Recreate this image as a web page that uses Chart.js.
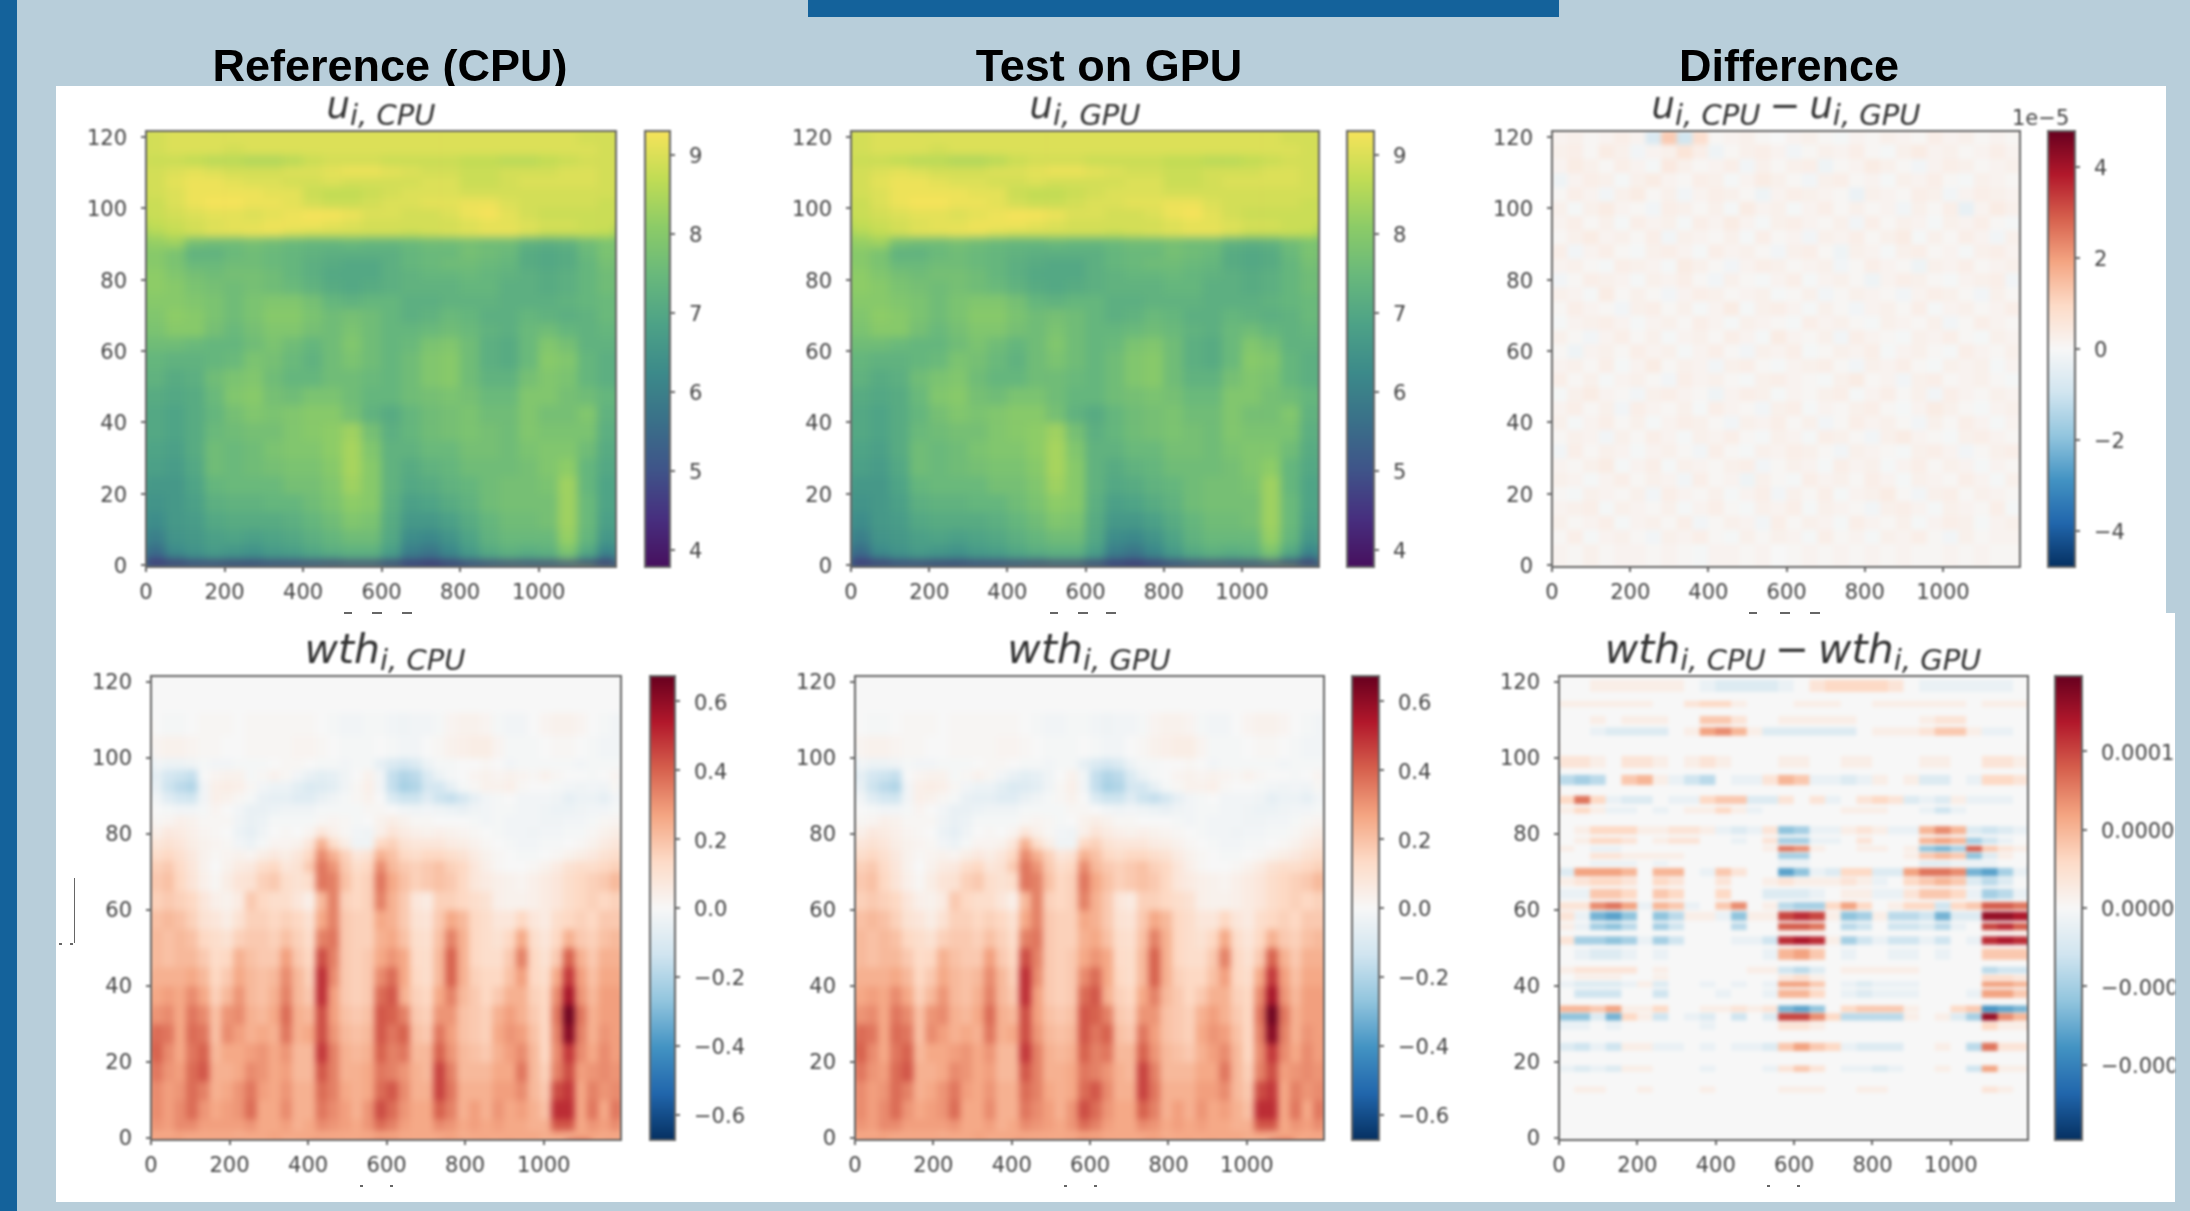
<!DOCTYPE html>
<html>
<head>
<meta charset="utf-8">
<title>CPU vs GPU</title>
<script src="https://cdn.jsdelivr.net/npm/chart.js@4"></script>
<style>
html, body { margin: 0; padding: 0; width: 2190px; height: 1211px; overflow: hidden; background: #b8ceda; }
div, span, canvas { position: absolute; }
.bar { background: #14629b; }
.panel { background: #fff; }
.head { font: bold 45px "Liberation Sans", sans-serif; color: #000; line-height: 1; white-space: nowrap; transform: translateX(-50%); filter: blur(0.5px); }
.math { font: italic 37px "DejaVu Sans", sans-serif; color: #333; line-height: 0; white-space: nowrap; transform: translateX(-50%); filter: blur(0.9px); z-index: 5; }
.math.big { font-size: 41px; }
.math span { position: static; font-size: 29px; vertical-align: -7px; }
.math b { font-weight: normal; font-style: normal; margin: 0 9px; }
.offset { font: 21px "DejaVu Sans", sans-serif; color: #444; filter: blur(0.8px); z-index: 5; }
.speck { background: #666; filter: blur(0.6px); z-index: 5; }
canvas { filter: blur(0.8px); z-index: 3; }
</style>
</head>
<body>
<div class="bar" style="left:0;top:0;width:17px;height:1211px"></div>
<div class="bar" style="left:808px;top:0;width:751px;height:17px"></div>
<div class="head" style="left:390px;top:43px">Reference (CPU)</div>
<div class="head" style="left:1109px;top:43px">Test on GPU</div>
<div class="head" style="left:1789px;top:43px">Difference</div>
<div class="panel" style="left:56px;top:86px;width:2110px;height:528px"></div>
<div class="panel" style="left:56px;top:613px;width:2119px;height:589px"></div>
<div id="stage"></div>
<script>
const xTicks = [0, 200, 400, 600, 800, 1000];
const yTicks = [0, 20, 40, 60, 80, 100, 120];

const uTicks = [4, 5, 6, 7, 8, 9];
const wthTicks = [-0.6, -0.4, -0.2, 0, 0.2, 0.4, 0.6];
const duTicks = [-4, -2, 0, 2, 4];
const dwthTicks = [-0.0001, -0.00005, 0, 0.00005, 0.0001];
const dwthTickLabels = ['\u22120.00010', '\u22120.00005', '0.00000', '0.00005', '0.00010'];

// u, tenths of a unit, top row first
const uCols = [25, 75, 125, 175, 225, 275, 325, 375, 425, 475, 525, 575, 625, 675, 725, 775, 825, 875, 925, 975, 1025, 1075, 1125, 1175];
const uBands = [[122,118],[118,115],[115,112],[112,109],[109,106],[106,103],[103,100],[100,97],[97,94],[94,92],[92,89],[89,86],[86,83],[83,80],[80,76],[76,72],[72,68],[68,64],[64,60],[60,55],[55,50],[50,45],[45,40],[40,35],[35,30],[30,25],[25,20],[20,15],[15,10],[10,6],[6,3],[3,1],[1,-0.5]];
const uRows = [
[89,90,90,90,90,90,90,90,90,90,90,90,90,90,90,90,90,90,90,90,90,90,89,89],
[89,90,90,90,89,90,90,90,90,90,90,90,90,90,90,90,90,90,90,90,90,90,90,89],
[88,88,87,86,86,85,85,86,88,89,89,89,88,88,88,88,87,87,86,86,87,88,89,89],
[89,90,91,90,89,89,89,90,90,91,92,92,91,90,89,89,88,88,89,89,89,90,90,89],
[89,91,92,92,91,90,90,89,89,90,89,89,89,89,90,90,88,88,89,90,90,90,90,89],
[89,90,92,92,92,92,91,91,88,87,87,88,89,90,90,90,89,89,89,89,89,89,89,89],
[88,90,92,93,93,92,92,91,89,88,88,89,90,90,91,91,92,92,90,89,89,89,89,88],
[88,89,90,91,91,90,91,92,93,93,92,90,90,89,89,90,92,93,91,89,88,88,88,88],
[87,88,89,90,91,91,92,92,92,91,90,89,89,89,89,89,90,91,91,90,89,89,88,88],
[85,87,89,91,91,92,92,90,89,89,89,89,89,88,89,90,91,92,92,90,88,88,88,87],
[82,83,77,76,76,77,76,75,74,74,75,74,74,75,76,76,77,76,76,73,72,73,76,78],
[80,78,73,73,75,76,75,74,73,72,72,72,72,74,75,75,77,76,75,71,70,71,75,78],
[80,78,75,75,76,76,75,74,72,71,70,70,72,74,75,76,76,75,74,71,70,71,74,77],
[81,79,77,76,77,77,76,74,72,70,70,70,72,73,74,74,75,74,73,72,71,72,74,76],
[81,80,78,77,76,77,76,75,73,71,70,71,72,73,73,73,74,74,72,72,71,72,74,76],
[80,80,79,78,76,78,79,79,77,74,73,74,74,72,72,73,73,73,72,72,72,73,74,75],
[79,81,80,78,76,78,80,80,78,76,77,76,74,72,73,75,74,72,72,74,73,72,73,75],
[78,80,80,77,75,77,79,79,77,76,78,76,74,74,75,76,75,73,72,75,76,74,73,74],
[76,76,75,74,74,76,78,76,74,76,79,76,74,75,78,79,76,72,71,75,79,77,73,73],
[74,73,73,74,75,78,77,75,73,76,78,76,74,76,79,80,76,72,71,75,80,79,74,72],
[73,71,72,76,78,79,76,74,74,76,76,75,74,76,79,80,76,73,73,77,79,78,74,72],
[71,70,71,75,79,80,77,76,78,78,76,74,74,76,77,78,77,75,75,79,79,77,76,74],
[70,69,71,74,77,79,78,79,80,80,77,73,71,74,76,77,78,76,76,79,77,77,79,73],
[70,69,71,75,76,77,77,79,80,81,83,77,72,74,76,77,78,77,76,79,78,78,78,72],
[69,68,71,76,75,76,78,79,79,81,84,79,73,73,75,75,77,77,76,78,79,79,76,71],
[68,67,70,76,75,76,77,78,78,80,84,80,73,71,73,74,76,76,76,77,79,81,74,70],
[66,66,69,74,75,75,75,77,77,79,83,80,73,70,71,73,74,76,77,77,78,83,74,69],
[65,66,68,72,73,73,74,74,76,78,81,80,72,68,69,71,73,76,77,77,77,83,75,69],
[63,66,67,70,71,71,71,72,74,76,79,78,71,66,66,68,71,74,76,76,77,83,75,68],
[60,65,66,68,69,68,69,70,72,74,76,76,70,63,62,65,69,73,75,75,75,82,74,66],
[56,63,65,67,66,65,67,68,70,72,73,73,68,60,58,62,67,71,73,72,73,79,71,62],
[52,58,62,64,63,62,64,65,67,68,70,70,65,57,55,59,64,68,70,69,70,75,66,57],
[40,40,41,41,40,40,41,41,41,40,41,41,40,40,39,40,41,41,41,41,41,42,40,39]
];

// wth, hundredths of a unit, top row first
const wthCols = [15, 45, 75, 105, 135, 165, 195, 225, 255, 285, 315, 345, 375, 405, 435, 465, 495, 525, 555, 585, 615, 645, 675, 705, 735, 765, 795, 825, 855, 885, 915, 945, 975, 1005, 1035, 1065, 1095, 1125, 1155, 1185];
const wthBands = [[122,112],[112,106],[106,100],[100,97],[97,94],[94,91],[91,88],[88,85],[85,82],[82,79],[79,76],[76,73],[73,70],[70,65],[65,60],[60,55],[55,50],[50,45],[45,40],[40,35],[35,30],[30,25],[25,20],[20,15],[15,10],[10,5],[5,2],[2,-0.5]];
const wthRows = [
[0,0,0,0,0,0,0,0,0,0,0,0,0,0,0,0,0,0,0,0,0,0,0,0,0,0,0,0,0,0,0,0,0,0,0,0,0,0,0,0],
[0,-1,-1,0,1,1,1,0,1,1,1,1,1,1,0,-1,-2,-2,-1,-1,-2,-3,-2,-2,-1,2,3,3,2,-1,-2,-2,0,2,3,3,2,0,-1,-2],
[2,3,3,2,1,1,0,0,1,1,1,1,2,2,1,0,-1,-1,-1,0,-1,-2,-2,0,1,3,4,5,5,2,-1,-1,-1,0,1,1,0,-1,-2,-2],
[-2,-4,-4,-3,-1,-2,-2,-1,-1,-1,0,1,1,0,-1,-1,-2,-1,-1,-6,-10,-12,-10,-4,-1,-1,0,0,1,0,-2,-1,-1,-1,-1,-1,-2,-1,-1,-1],
[-6,-12,-14,-16,0,2,3,3,-1,1,3,1,-2,-5,-7,-6,-3,0,3,-2,-16,-20,-18,-10,-4,-1,0,2,3,2,3,2,1,3,1,0,0,-1,0,2],
[-5,-14,-18,-20,-2,4,5,4,1,-2,-4,-4,-7,-10,-9,-7,-3,1,4,-2,-16,-22,-20,-12,-12,-6,-1,1,3,3,4,1,0,0,-1,-2,-3,-2,-3,1],
[-2,-8,-12,-13,-2,4,3,1,-1,-5,-6,-6,-8,-8,-5,-3,-1,1,3,0,-10,-14,-14,-8,-14,-16,-12,-6,-2,-1,0,-2,-2,-2,-3,-6,-4,-4,-6,-2],
[0,-1,-2,-2,-1,2,0,-2,-5,-5,-4,-3,-3,-3,-1,-1,-1,-1,1,1,0,-2,-3,-2,-3,-4,-5,-3,-2,-1,-1,-2,-2,-3,-4,-4,-3,-2,-2,-1],
[1,2,4,3,1,1,1,-3,-5,-4,-1,-1,-1,-1,1,2,1,-1,0,3,5,3,1,1,0,0,0,-1,-2,-1,-2,-2,-2,-3,-3,-2,-2,-1,1,2],
[4,7,6,4,2,1,0,-4,-6,-3,0,1,0,2,8,4,1,-2,-3,4,9,6,4,3,4,3,2,1,0,-1,-2,-2,-3,-2,-2,-1,-1,1,3,5],
[8,10,8,5,3,2,1,-2,-4,-1,2,2,3,8,24,12,5,-3,-3,14,16,10,8,8,8,6,5,3,1,0,-1,-2,-2,-1,-1,0,1,3,6,8],
[12,14,11,7,3,1,2,3,2,5,7,5,8,14,32,24,16,8,10,24,20,14,12,14,14,12,10,6,3,1,0,-1,-1,0,1,3,5,7,10,12],
[16,18,13,8,3,0,3,6,7,12,14,8,10,18,36,30,18,12,14,32,22,18,16,18,20,16,14,8,4,1,0,0,1,3,6,10,12,12,14,16],
[18,20,14,9,4,1,5,9,10,16,18,12,10,12,36,34,20,14,16,36,26,20,16,18,20,18,14,8,6,4,3,2,4,6,8,12,14,16,18,22],
[16,18,16,14,8,4,3,6,18,14,12,12,8,4,22,34,16,14,16,34,24,18,8,6,16,16,14,12,10,4,3,3,4,6,8,12,14,16,14,16],
[20,22,20,16,10,8,5,10,16,16,14,16,14,10,26,34,18,16,16,26,24,18,10,9,18,26,22,14,12,8,8,14,8,6,12,14,16,14,18,18],
[22,20,22,20,14,12,10,16,18,18,16,20,16,12,34,36,18,16,16,24,26,20,12,11,20,34,24,14,12,10,14,26,12,8,14,24,18,16,20,22],
[22,20,22,22,18,13,14,24,20,18,18,28,18,14,44,34,18,16,18,26,30,26,13,12,22,40,24,14,12,12,18,34,14,10,18,40,24,18,24,24],
[24,24,24,26,22,14,18,26,22,20,22,32,22,16,50,32,18,16,18,32,38,26,14,12,22,40,24,16,14,14,20,28,14,12,26,48,28,20,26,26],
[26,28,26,32,26,16,22,30,22,20,24,34,22,18,50,28,18,16,18,38,42,24,16,14,26,34,22,18,14,18,24,24,16,14,32,56,30,22,28,28],
[30,32,26,36,32,20,30,32,24,22,26,38,24,22,44,28,20,18,20,42,40,34,18,16,30,30,20,18,16,24,28,24,18,14,36,66,36,24,28,28],
[38,36,26,38,36,20,32,28,24,26,24,36,24,26,44,30,22,20,22,42,36,40,20,18,36,28,20,18,16,26,30,28,20,14,34,62,34,24,30,28],
[40,32,26,36,40,22,26,26,28,30,26,30,22,22,48,34,24,22,24,40,34,36,22,22,40,30,22,20,18,24,28,32,22,14,32,48,32,26,32,28],
[36,30,28,38,42,24,24,26,32,30,26,28,22,22,42,34,24,24,26,36,34,30,24,22,46,34,22,22,22,26,26,36,22,16,34,44,28,30,32,30],
[32,28,30,38,34,24,26,30,36,28,26,30,24,24,38,34,26,24,26,38,42,32,24,24,46,36,24,24,24,28,28,32,22,18,44,48,26,34,30,32],
[32,28,32,38,30,26,28,30,38,26,26,32,24,24,36,32,28,24,30,44,38,30,26,26,40,34,24,28,24,30,26,28,24,20,50,50,26,36,26,36],
[30,28,32,32,28,28,28,28,30,26,26,28,24,26,32,30,28,26,30,38,34,28,26,26,32,30,26,28,26,28,26,26,24,24,42,42,26,30,28,32],
[26,26,27,26,26,26,26,25,26,26,27,26,26,26,26,26,26,26,26,27,27,26,26,26,26,27,25,26,26,26,26,26,26,25,26,25,27,27,26,26]
];

// difference of wth, units of 1e-5, only the bands that show
const dCols = [20, 60, 100, 140, 180, 220, 260, 300, 340, 380, 420, 460, 500, 540, 580, 620, 660, 700, 740, 780, 820, 860, 900, 940, 980, 1020, 1060, 1100, 1140, 1180];
const dwthBands = [[120.5,117.5],[115,113.5],[111,109],[108,106],[100.5,97.5],[95.5,93],[90,88],[87,85.5],[82,80],[79,77.5],[76.8,75.5],[75,73.5],[72.8,71.8],[71,69],[68.5,66.5],[65.5,63],[62,60.2],[59.5,57.3],[56.5,54.8],[54.2,53.7],[53,51],[49.8,47],[45,43.4],[42.8,41.8],[41.2,39.8],[39,37],[34.8,33.2],[32.8,31],[30.5,28.5],[25,23],[19,17.5],[13.5,12]];
const dwthRows = [
[0,0,1,1,1,1,1,1,0,-1,-2,-2,-2,-2,-1,0,2,3,3,3,3,2,0,-1,-1,-1,-1,-1,-1,0],
[1,1,1,1,1,1,0,0,2,3,3,1,0,0,0,1,1,1,0,0,1,1,1,1,1,1,0,1,1,1],
[0,0,1,0,1,1,1,0,0,4,4,2,0,0,1,1,1,1,1,0,0,0,0,1,2,2,0,0,0,0],
[0,0,-1,-2,-2,-2,-2,0,1,6,7,5,1,-2,-2,-2,-2,-2,-2,0,1,1,1,2,4,4,1,-1,-1,0],
[2,2,1,0,2,2,1,0,1,2,1,0,0,0,1,1,0,0,1,1,0,0,0,1,1,0,0,2,2,1],
[-4,-5,-4,0,4,5,1,-1,-3,-4,0,-1,-1,2,5,4,-1,-1,-2,-1,1,0,1,-2,-2,0,-1,3,3,2],
[3,8,3,-1,-2,-2,0,-1,-1,3,4,4,-2,-2,2,0,2,-1,0,2,3,2,-2,-1,-2,1,-1,-1,-1,0],
[1,3,1,-1,-1,0,-1,0,1,1,3,1,-1,0,0,0,0,0,1,1,1,0,0,-1,-3,-1,0,0,0,0],
[0,1,3,3,3,1,1,2,2,1,-1,-2,-1,2,-6,-5,-1,-1,1,2,1,-1,-1,5,7,5,-2,-3,-2,-1],
[0,1,3,3,2,0,1,2,2,0,0,-1,0,2,-5,-5,-1,-1,0,2,0,0,0,5,6,5,-5,-3,-1,0],
[1,0,-1,-1,0,0,0,0,0,0,0,0,0,1,8,7,1,0,0,1,1,0,1,-6,-7,-5,9,4,2,1],
[0,0,2,2,1,1,1,1,0,0,0,0,0,0,-5,-5,0,0,0,0,0,0,1,4,5,4,-6,-2,1,0],
[0,0,-1,-1,-1,0,-1,0,0,0,0,0,0,0,-1,-1,0,0,0,0,0,0,0,-2,-2,-1,-1,-1,0,0],
[-2,6,6,6,5,0,5,5,0,-1,4,2,0,0,-8,-6,-1,-2,3,3,-2,-2,6,8,8,7,-7,-8,-5,-1],
[1,2,3,3,2,0,3,2,0,0,2,0,0,1,2,1,1,1,2,1,-1,0,3,4,5,4,-2,-4,-2,0],
[-1,-1,4,4,3,0,4,3,0,0,3,0,0,-2,-2,-2,-1,0,1,1,-1,-1,2,4,4,3,-1,-5,-4,-1],
[2,2,7,8,6,-1,5,4,-1,0,4,7,0,1,-4,-5,-5,3,6,3,0,1,3,3,-3,3,4,9,9,8],
[2,-1,-7,-8,-6,0,-6,-4,1,1,-1,-6,1,1,10,11,10,1,-6,-5,1,-4,-4,-3,-7,-2,-2,13,13,12],
[1,-1,-5,-6,-4,0,-5,-3,0,0,0,-4,0,0,9,9,8,0,-4,-3,0,-3,-3,-2,-4,-1,0,10,11,9],
[0,0,0,0,0,0,0,0,0,0,0,0,0,0,1,1,1,0,0,0,0,0,0,0,0,0,0,1,1,1],
[2,-5,-5,-6,-5,-1,-5,-3,0,0,0,-1,-1,-3,11,12,11,1,-5,-3,-1,-3,-3,-1,-3,0,-1,11,12,11],
[0,-1,-2,-2,-1,0,-1,0,0,0,0,0,0,-1,5,6,4,0,-1,0,0,-1,-1,0,-1,0,0,4,4,4],
[1,2,2,2,2,0,1,0,0,0,0,0,1,1,-3,-4,-2,0,1,1,1,1,1,0,0,0,0,-4,-3,-3],
[0,1,1,1,0,0,1,0,0,0,0,0,0,0,2,3,1,0,0,0,0,0,0,0,0,0,0,3,3,2],
[-1,-2,-2,-2,-1,1,-2,0,0,-1,0,-1,0,-1,6,6,4,0,-1,-2,-1,-1,-1,0,0,0,0,6,6,5],
[0,-3,-3,-3,0,0,-3,0,0,0,-1,0,0,-1,5,5,3,0,-1,-2,-1,-1,-1,0,0,0,-1,6,6,4],
[5,5,4,6,1,1,3,0,0,1,1,2,1,2,-7,-8,-6,0,3,4,4,4,1,0,0,3,4,-9,-8,-7],
[-6,-6,-2,-7,3,1,-3,0,-1,-2,0,-3,0,-2,10,10,7,3,-4,-4,-4,-4,1,0,1,-2,-5,13,7,5],
[-1,-1,0,-1,0,0,0,0,0,-1,0,0,0,0,2,2,1,0,0,0,0,0,0,0,0,0,0,3,1,1],
[-2,-3,-1,-3,1,1,-1,-1,0,-1,0,-1,-1,-2,4,6,4,3,-1,-2,-2,-2,0,0,1,0,-4,8,2,2],
[-1,-2,-1,-2,1,1,0,0,0,-1,0,0,0,-1,2,4,2,0,-1,-1,-2,-1,0,0,1,0,-3,6,1,1],
[0,1,1,0,0,1,0,0,0,1,0,0,0,0,1,1,1,0,0,1,1,0,0,0,0,0,0,2,1,0]
];

// difference of u, in 1/13 of 1e-5, faint speckle read by eye
const duBands = [[122,118],[118,114],[114,110],[110,106],[106,102],[102,98],[98,94],[94,90],[90,86],[86,82],[82,78],[78,74],[74,70],[70,66],[66,62],[62,58],[58,54],[54,50],[50,46],[46,42],[42,38],[38,34],[34,30],[30,26],[26,22],[22,18],[18,14],[14,10],[10,6],[6,-0.5]];
const duRows = [
[2,3,1,2,4,2,-9,16,-12,10,1,2,3,1,0,2,3,1,-1,2,1,3,2,1,4,2,3,1,2,1],
[3,4,1,5,3,-2,2,3,8,4,-3,1,3,4,2,-2,1,3,2,4,1,-1,3,5,2,3,1,2,4,2],
[2,5,3,1,4,2,-1,6,3,1,2,4,-2,3,1,3,4,-3,1,2,5,3,1,-2,2,4,3,1,2,3],
[-3,2,4,3,-1,3,5,2,1,4,3,-1,2,5,3,1,-2,3,4,1,2,-1,3,2,4,1,-1,3,2,1],
[1,4,2,-2,3,5,1,3,-2,2,4,3,1,-3,2,4,3,2,1,-4,3,2,1,4,3,-2,2,4,3,2],
[3,-1,3,5,2,1,-2,4,3,1,3,-1,5,2,3,-1,2,4,1,3,1,2,-2,3,1,4,-5,2,5,3],
[2,4,1,3,-1,4,2,3,-1,4,2,5,2,-1,3,4,2,1,3,-2,4,1,3,2,-1,3,2,4,1,-1],
[1,3,5,2,3,1,4,-2,3,2,1,3,-1,4,1,2,-2,3,2,4,1,3,5,-1,3,1,4,2,-2,3],
[4,-2,2,4,1,-1,3,4,2,-1,4,2,3,1,-2,3,4,1,-3,3,2,-1,3,4,1,2,-1,3,4,2],
[2,3,1,-1,4,3,2,-1,5,3,1,-2,2,4,3,1,2,3,-2,1,4,2,1,-3,3,2,4,1,2,3],
[-2,1,4,3,2,-1,3,2,4,1,-2,3,1,-1,2,4,-1,2,3,1,-3,2,4,3,1,-1,2,3,4,-2],
[3,2,-1,5,1,3,1,-2,2,4,3,1,2,3,-1,1,3,-2,1,3,2,1,-2,2,4,3,1,-2,3,1],
[1,4,2,1,-2,3,4,1,3,-1,2,5,-1,3,4,2,-1,3,1,-2,2,3,1,4,-1,2,3,1,2,4],
[-1,2,3,4,2,-1,2,3,1,4,2,-1,3,2,1,-1,4,2,3,1,-1,3,2,1,3,-2,1,4,2,1],
[3,1,-2,2,4,1,3,-1,2,3,1,4,2,-1,5,2,1,3,-2,4,2,1,-1,3,2,4,1,-1,3,2],
[1,-3,2,3,1,4,2,3,-1,2,4,1,-2,3,2,4,-1,1,3,2,4,-1,2,3,1,-1,4,2,1,3],
[2,3,1,4,-1,2,5,1,3,2,-2,3,4,1,-1,2,3,4,1,-2,3,2,4,1,-1,3,2,3,-1,2],
[4,1,3,-1,2,3,1,-2,4,2,3,1,-1,3,4,2,1,-1,3,5,1,2,-2,3,4,1,2,3,1,-1],
[-1,3,5,2,1,-2,3,4,2,1,-3,2,4,3,-1,2,1,3,4,-1,2,4,1,3,-2,4,2,1,3,2],
[2,4,1,3,-2,4,2,1,3,-1,4,2,1,-2,3,4,-1,2,1,3,4,1,-1,2,5,3,1,-1,2,3],
[3,-1,2,4,1,3,-1,2,4,3,1,-2,3,2,4,1,3,-2,1,4,2,3,1,-2,3,1,4,2,-1,2],
[1,3,2,-2,3,1,4,2,-1,3,2,4,1,-1,3,2,-1,4,3,1,-2,3,5,2,1,-1,3,4,2,1],
[-2,4,1,3,2,-1,2,3,1,-2,4,1,-1,3,2,4,3,1,-2,3,2,1,-1,3,4,2,-2,1,3,4],
[2,1,3,5,-1,2,4,-1,3,2,1,3,4,-2,1,3,2,-1,4,2,3,-1,2,4,1,3,2,-1,2,1],
[3,2,-1,2,4,1,3,2,-2,4,1,2,-3,3,1,-1,4,2,3,1,4,2,-1,3,2,1,4,2,-1,3],
[1,-1,3,2,1,3,-2,4,2,1,3,-1,2,4,-2,3,1,4,-1,2,3,5,1,-2,3,4,1,3,2,1],
[2,3,4,-1,3,2,1,3,-1,2,4,1,-1,3,2,4,-1,3,2,1,-2,3,4,2,-1,3,2,1,4,-1],
[3,1,2,4,-1,2,3,1,4,-2,1,3,2,-2,4,1,3,2,-1,4,2,1,3,-1,2,4,3,-1,2,3],
[1,4,-1,2,3,1,-2,3,2,4,1,-1,3,1,3,2,-1,4,1,2,-1,3,2,4,1,-2,3,1,2,2],
[2,1,3,1,2,2,1,2,1,-1,2,2,1,2,0,1,2,1,2,1,2,1,2,1,1,2,1,2,1,1]
];

// colour ramps, viridis looks washed out in the screenshot
const viridisStops = ['#47105e', '#472f7f', '#3f5489', '#3a7089', '#3c8a8a', '#4da287', '#68b87c', '#8bcb68', '#c0dc55', '#f6e35a'];
const rdbuStops = ['#053061', '#2166ac', '#4393c3', '#92c5de', '#d1e5f0', '#f7f7f7', '#fddbc7', '#f4a582', '#d6604d', '#b2182b', '#67001f'];

function rampColor(stops, f) {
    f = Math.min(1, Math.max(0, f));
    const p = f * (stops.length - 1);
    const i = Math.min(stops.length - 2, Math.floor(p));
    const a = parseInt(stops[i].slice(1), 16), b = parseInt(stops[i + 1].slice(1), 16);
    const mix = (s) => Math.round(((a >> s) & 255) * (1 - p + i) + ((b >> s) & 255) * (p - i));
    return `rgb(${mix(16)},${mix(8)},${mix(0)})`;
}

const frameColor = '#666';
const tickFont = { family: '"DejaVu Sans"', size: 21 };

// smooths the cells, the reference is a blurred screenshot
const softPlugin = {
    id: 'soft',
    beforeDatasetsDraw(chart, args, opts) {
        const a = chart.chartArea;
        chart.ctx.fillStyle = opts.base;
        chart.ctx.fillRect(a.left, a.top, a.width, a.height);
    },
    afterDatasetsDraw(chart, args, opts) {
        const { ctx, chartArea: a, canvas } = chart;
        const tmp = document.createElement('canvas');
        tmp.width = canvas.width;
        tmp.height = canvas.height;
        const t = tmp.getContext('2d');
        t.drawImage(canvas, a.left, a.top, a.width, a.height, a.left - 20, a.top - 20, a.width + 40, a.height + 40);
        t.drawImage(canvas, a.left, a.top, a.width, a.height, a.left, a.top, a.width, a.height);
        ctx.save();
        ctx.beginPath();
        ctx.rect(a.left, a.top, a.width, a.height);
        ctx.clip();
        ctx.filter = `blur(${opts.blur}px)`;
        ctx.drawImage(tmp, 0, 0);
        ctx.restore();
    }
};

const framePlugin = {
    id: 'frame',
    afterDraw(chart) {
        const a = chart.chartArea;
        chart.ctx.strokeStyle = frameColor;
        chart.ctx.lineWidth = 2;
        chart.ctx.strokeRect(a.left, a.top, a.width, a.height);
    }
};

function addCanvas(left, top, width, height) {
    const c = document.createElement('canvas');
    c.width = width;
    c.height = height;
    c.style.left = left + 'px';
    c.style.top = top + 'px';
    document.getElementById('stage').appendChild(c);
    return c;
}

function axisGrid() {
    return { display: true, drawOnChartArea: false, drawTicks: true, tickLength: 5, tickColor: frameColor, lineWidth: 2, offset: false };
}

function heatmap(box, cols, bands, rows, stops, lo, hi, blur, yMax, yShift) {
    const ml = 80, mt = 30, mb = 50, mr = 4;
    const canvas = addCanvas(box.l - ml, box.t - mt, box.r - box.l + ml + mr, box.b - box.t + mt + mb);
    const datasets = rows.map((row, i) => ({
        data: row.map((v, j) => ({ x: cols[j], y: bands[i] })),
        backgroundColor: row.map(v => rampColor(stops, (v - lo) / (hi - lo))),
        grouped: false,
        barPercentage: 1,
        categoryPercentage: 1,
        borderWidth: 0
    }));
    new Chart(canvas, {
        type: 'bar',
        data: { datasets },
        plugins: [softPlugin, framePlugin],
        options: {
            responsive: false,
            animation: false,
            layout: { padding: { left: 0, top: mt, right: mr, bottom: 0 } },
            plugins: {
                legend: { display: false },
                tooltip: { enabled: false },
                soft: { blur, base: rampColor(stops, (0 - lo) / (hi - lo)) }
            },
            scales: {
                x: {
                    type: 'linear', min: 0, max: 1197, offset: false,
                    afterFit(s) { s.height = mb; },
                    afterBuildTicks(s) { s.ticks = xTicks.map(value => ({ value })); },
                    grid: axisGrid(), border: { display: false },
                    ticks: { font: tickFont, color: '#444', padding: 9, maxRotation: 0, autoSkip: false, callback: v => String(v) }
                },
                y: {
                    min: -0.5, max: yMax,
                    afterFit(s) { s.width = ml; },
                    afterBuildTicks(s) { s.ticks = yTicks.map(value => ({ value })); },
                    grid: axisGrid(), border: { display: false },
                    ticks: { font: tickFont, color: '#444', padding: 14, autoSkip: false, labelOffset: yShift }
                }
            }
        }
    });
}

function colorbar(box, clipRight, stops, lo, hi, ticks, labels) {
    const mt = 30, mb = 20, ml = 4;
    const canvas = addCanvas(box.l - ml, box.t - mt, clipRight - box.l + ml, box.b - box.t + mt + mb);
    new Chart(canvas, {
        type: 'bar',
        data: {
            labels: [''],
            datasets: [{
                data: [[lo, hi]],
                barPercentage: 1,
                categoryPercentage: 1,
                borderWidth: 0,
                backgroundColor(ctx) {
                    const a = ctx.chart.chartArea;
                    if (!a) return stops[0];
                    const g = ctx.chart.ctx.createLinearGradient(0, a.bottom, 0, a.top);
                    stops.forEach((s, i) => g.addColorStop(i / (stops.length - 1), s));
                    return g;
                }
            }]
        },
        plugins: [framePlugin],
        options: {
            responsive: false,
            animation: false,
            layout: { padding: { left: ml, top: mt, right: 0, bottom: mb } },
            plugins: { legend: { display: false }, tooltip: { enabled: false } },
            scales: {
                x: { display: false },
                y: {
                    position: 'right', min: lo, max: hi,
                    afterFit(s) { s.width = clipRight - box.r; s.paddingTop = 0; s.paddingBottom = 0; },
                    afterBuildTicks(s) { s.ticks = ticks.map(value => ({ value })); },
                    grid: axisGrid(), border: { display: false },
                    ticks: {
                        font: tickFont, color: '#444', padding: 14, autoSkip: false, labelOffset: 3,
                        callback(v) {
                            const at = ticks.indexOf(v);
                            return labels[at];
                        }
                    }
                }
            }
        }
    });
}

function mathTitle(x, baseline, html, big) {
    const el = document.createElement('div');
    el.className = big ? 'math big' : 'math';
    el.style.left = x + 'px';
    el.style.top = (baseline - 13) + 'px';
    el.innerHTML = html;
    document.getElementById('stage').appendChild(el);
}

function speck(l, t, w, h) {
    const el = document.createElement('div');
    el.className = 'speck';
    el.style.cssText = `left:${l}px;top:${t}px;width:${w}px;height:${h}px`;
    document.getElementById('stage').appendChild(el);
}

const uLabels = uTicks.map(String);
const wthLabels = ['\u22120.6', '\u22120.4', '\u22120.2', '0.0', '0.2', '0.4', '0.6'];
const duLabels = ['\u22124', '\u22122', '0', '2', '4'];

// top row
heatmap({ l: 146, r: 616, t: 131, b: 567 }, uCols, uBands, uRows, viridisStops, 37.8, 93, 4, 121.7, 2.5);
colorbar({ l: 645, r: 670, t: 131, b: 567 }, 770, viridisStops, 3.78, 9.3, uTicks, uLabels);
heatmap({ l: 851, r: 1319, t: 131, b: 567 }, uCols, uBands, uRows, viridisStops, 37.8, 93, 4, 121.7, 2.5);
colorbar({ l: 1347, r: 1374, t: 131, b: 567 }, 1470, viridisStops, 3.78, 9.3, uTicks, uLabels);
heatmap({ l: 1552, r: 2020, t: 131, b: 567 }, dCols, duBands, duRows, rdbuStops, -62, 62, 2, 121.7, 2.5);
colorbar({ l: 2048, r: 2075, t: 131, b: 567 }, 2160, rdbuStops, -4.79, 4.79, duTicks, duLabels);

// bottom row
heatmap({ l: 151, r: 621, t: 676, b: 1140 }, wthCols, wthBands, wthRows, rdbuStops, -67.3, 67.3, 3, 121.6, 1);
colorbar({ l: 650, r: 675, t: 676, b: 1140 }, 780, rdbuStops, -0.673, 0.673, wthTicks, wthLabels);
heatmap({ l: 855, r: 1324, t: 676, b: 1140 }, wthCols, wthBands, wthRows, rdbuStops, -67.3, 67.3, 3, 121.6, 1);
colorbar({ l: 1352, r: 1379, t: 676, b: 1140 }, 1480, rdbuStops, -0.673, 0.673, wthTicks, wthLabels);
heatmap({ l: 1559, r: 2028, t: 676, b: 1140 }, dCols, dwthBands, dwthRows, rdbuStops, -14.8, 14.8, 1.6, 121.6, 1);
colorbar({ l: 2055, r: 2082, t: 676, b: 1140 }, 2175, rdbuStops, -0.000148, 0.000148, dwthTicks, dwthTickLabels);

mathTitle(381, 119, '<i>u</i><span>i, CPU</span>');
mathTitle(1085, 119, '<i>u</i><span>i, GPU</span>');
mathTitle(1786, 119, '<i>u</i><span>i, CPU</span><b>\u2212</b><i>u</i><span>i, GPU</span>');
mathTitle(385, 662, '<i>wth</i><span>i, CPU</span>', true);
mathTitle(1089, 662, '<i>wth</i><span>i, GPU</span>', true);
mathTitle(1793, 662, '<i>wth</i><span>i, CPU</span><b>\u2212</b><i>wth</i><span>i, GPU</span>', true);

const offset = document.createElement('div');
offset.className = 'offset';
offset.style.cssText = 'left:2012px;top:106px';
offset.textContent = '1e\u22125';
document.getElementById('stage').appendChild(offset);

// clipped axis labels left over in the screenshot
[[344, 612, 8], [372, 612, 10], [402, 612, 10], [1050, 612, 8], [1078, 612, 10], [1106, 612, 10], [1749, 612, 8], [1780, 612, 10], [1810, 612, 10]].forEach(s => speck(s[0], s[1], s[2], 2));
[[360, 1185], [390, 1185], [1064, 1185], [1094, 1185], [1767, 1185], [1797, 1185]].forEach(s => speck(s[0], s[1], 3, 2));
speck(74, 878, 1, 65);
speck(59, 943, 3, 2);
speck(70, 943, 3, 2);
</script>
</body>
</html>
